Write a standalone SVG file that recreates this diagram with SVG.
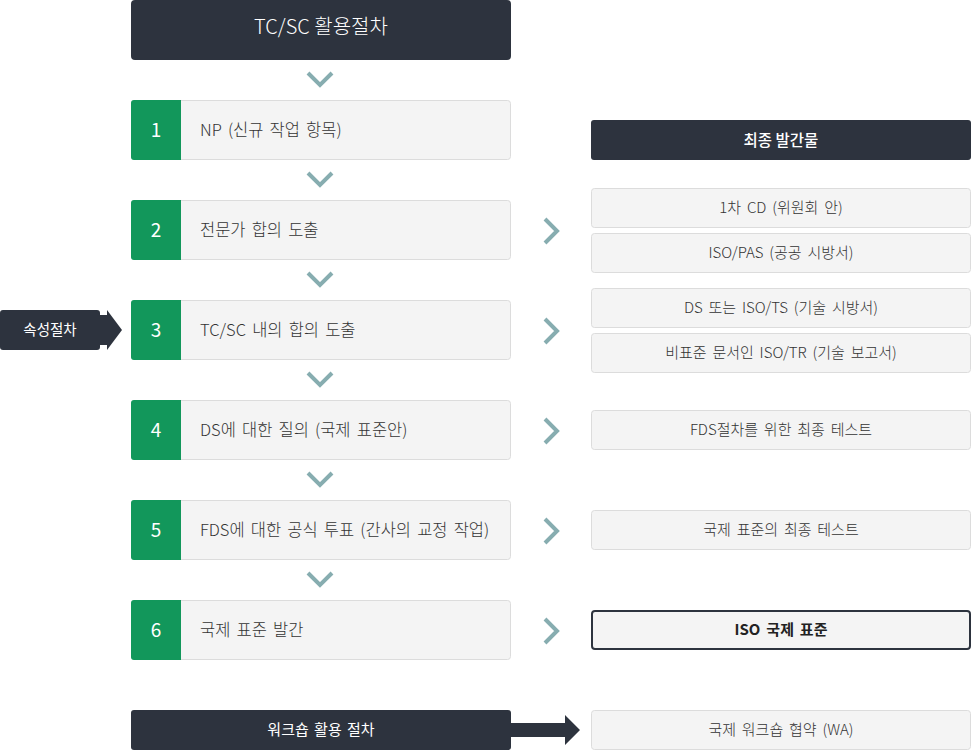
<svg xmlns="http://www.w3.org/2000/svg" width="971" height="750" viewBox="0 0 971 750">
<style>
text{font-family:"Noto Sans CJK KR","Noto Sans",sans-serif}
.dark{fill:#2d333e}
.box{fill:#f4f4f4;stroke:#dcdcdc;stroke-width:1}
.green{fill:#12975b}
.num{fill:#fff;font-size:19px;text-anchor:middle}
.lbl{fill:#333;font-size:16.5px;font-weight:300;word-spacing:2.5px}
.rt{fill:#333;font-size:15px;font-weight:300;text-anchor:middle;word-spacing:2.5px}
.wt{fill:#fff;text-anchor:middle}
.chev{fill:none;stroke:#87adb0;stroke-width:4}
</style>
<rect width="971" height="750" fill="#fff"/>
<g id="title"><rect class="dark" x="131" y="0" width="380" height="60" rx="4"/><text class="wt" x="321" y="34" font-size="20" font-weight="300">TC/SC 활용절차</text></g>
<g id="step1"><rect class="box" x="131.5" y="100.5" width="379" height="59" rx="3"/><path class="green" d="M134,100H181V160H134a3,3 0 0 1-3-3V103a3,3 0 0 1 3-3z"/><text class="num" x="156" y="137">1</text><text class="lbl" x="200" y="136">NP (신규 작업 항목)</text></g>
<g id="step2"><rect class="box" x="131.5" y="200.5" width="379" height="59" rx="3"/><path class="green" d="M134,200H181V260H134a3,3 0 0 1-3-3V203a3,3 0 0 1 3-3z"/><text class="num" x="156" y="237">2</text><text class="lbl" x="200" y="236">전문가 합의 도출</text></g>
<g id="step3"><rect class="box" x="131.5" y="300.5" width="379" height="59" rx="3"/><path class="green" d="M134,300H181V360H134a3,3 0 0 1-3-3V303a3,3 0 0 1 3-3z"/><text class="num" x="156" y="337">3</text><text class="lbl" x="200" y="336">TC/SC 내의 합의 도출</text></g>
<g id="step4"><rect class="box" x="131.5" y="400.5" width="379" height="59" rx="3"/><path class="green" d="M134,400H181V460H134a3,3 0 0 1-3-3V403a3,3 0 0 1 3-3z"/><text class="num" x="156" y="437">4</text><text class="lbl" x="200" y="436">DS에 대한 질의 (국제 표준안)</text></g>
<g id="step5"><rect class="box" x="131.5" y="500.5" width="379" height="59" rx="3"/><path class="green" d="M134,500H181V560H134a3,3 0 0 1-3-3V503a3,3 0 0 1 3-3z"/><text class="num" x="156" y="537">5</text><text class="lbl" x="200" y="536">FDS에 대한 공식 투표 (간사의 교정 작업)</text></g>
<g id="step6"><rect class="box" x="131.5" y="600.5" width="379" height="59" rx="3"/><path class="green" d="M134,600H181V660H134a3,3 0 0 1-3-3V603a3,3 0 0 1 3-3z"/><text class="num" x="156" y="637">6</text><text class="lbl" x="200" y="636">국제 표준 발간</text></g>
<g id="attr"><rect class="dark" x="0" y="310" width="100" height="40" rx="3"/><text class="wt" x="50" y="335" font-size="14.5">속성절차</text></g>
<g id="workshop"><rect class="dark" x="131" y="710" width="380" height="40" rx="3"/><text class="wt" x="321" y="735" font-size="15" word-spacing="2">워크숍 활용 절차</text></g>
<g id="outHeader"><rect class="dark" x="591" y="120" width="380" height="40" rx="3"/><text class="wt" x="781" y="146" font-size="15.5" font-weight="500">최종 발간물</text></g>
<g id="out1"><rect class="box" x="591.5" y="188.5" width="379" height="39" rx="3"/><text class="rt" x="781" y="213">1차 CD (위원회 안)</text></g>
<g id="out2"><rect class="box" x="591.5" y="233.5" width="379" height="39" rx="3"/><text class="rt" x="781" y="258">ISO/PAS (공공 시방서)</text></g>
<g id="out3"><rect class="box" x="591.5" y="288.5" width="379" height="39" rx="3"/><text class="rt" x="781" y="313">DS 또는 ISO/TS (기술 시방서)</text></g>
<g id="out4"><rect class="box" x="591.5" y="333.5" width="379" height="39" rx="3"/><text class="rt" x="781" y="358">비표준 문서인 ISO/TR (기술 보고서)</text></g>
<g id="out5"><rect class="box" x="591.5" y="410.5" width="379" height="39" rx="3"/><text class="rt" x="781" y="435">FDS절차를 위한 최종 테스트</text></g>
<g id="out6"><rect class="box" x="591.5" y="510.5" width="379" height="39" rx="3"/><text class="rt" x="781" y="535">국제 표준의 최종 테스트</text></g>
<g id="out7"><rect x="592" y="611" width="378" height="38" rx="3" fill="#f4f4f4" stroke="#2d333e" stroke-width="2"/><text class="rt" x="781" y="635" style="font-weight:bold;fill:#222">ISO 국제 표준</text></g>
<g id="out8"><rect class="box" x="591.5" y="710.5" width="379" height="39" rx="3"/><text class="rt" x="781" y="735">국제 워크숍 협약 (WA)</text></g>
<g id="connectors">
<path class="chev" d="M308,73L320,85L332,73"/>
<path class="chev" d="M308,173L320,185L332,173"/>
<path class="chev" d="M308,273L320,285L332,273"/>
<path class="chev" d="M308,373L320,385L332,373"/>
<path class="chev" d="M308,473L320,485L332,473"/>
<path class="chev" d="M308,573L320,585L332,573"/>
<path class="chev" d="M545,219L557,231L545,243"/>
<path class="chev" d="M545,319L557,331L545,343"/>
<path class="chev" d="M545,419L557,431L545,443"/>
<path class="chev" d="M545,519L557,531L545,543"/>
<path class="chev" d="M545,619L557,631L545,643"/>
<path class="dark" d="M100,315H107V310L122,330L107,350V345H100Z"/>
<path class="dark" d="M511,723H565V715L580,730L565,745V737H511Z"/>
</g>
</svg>
